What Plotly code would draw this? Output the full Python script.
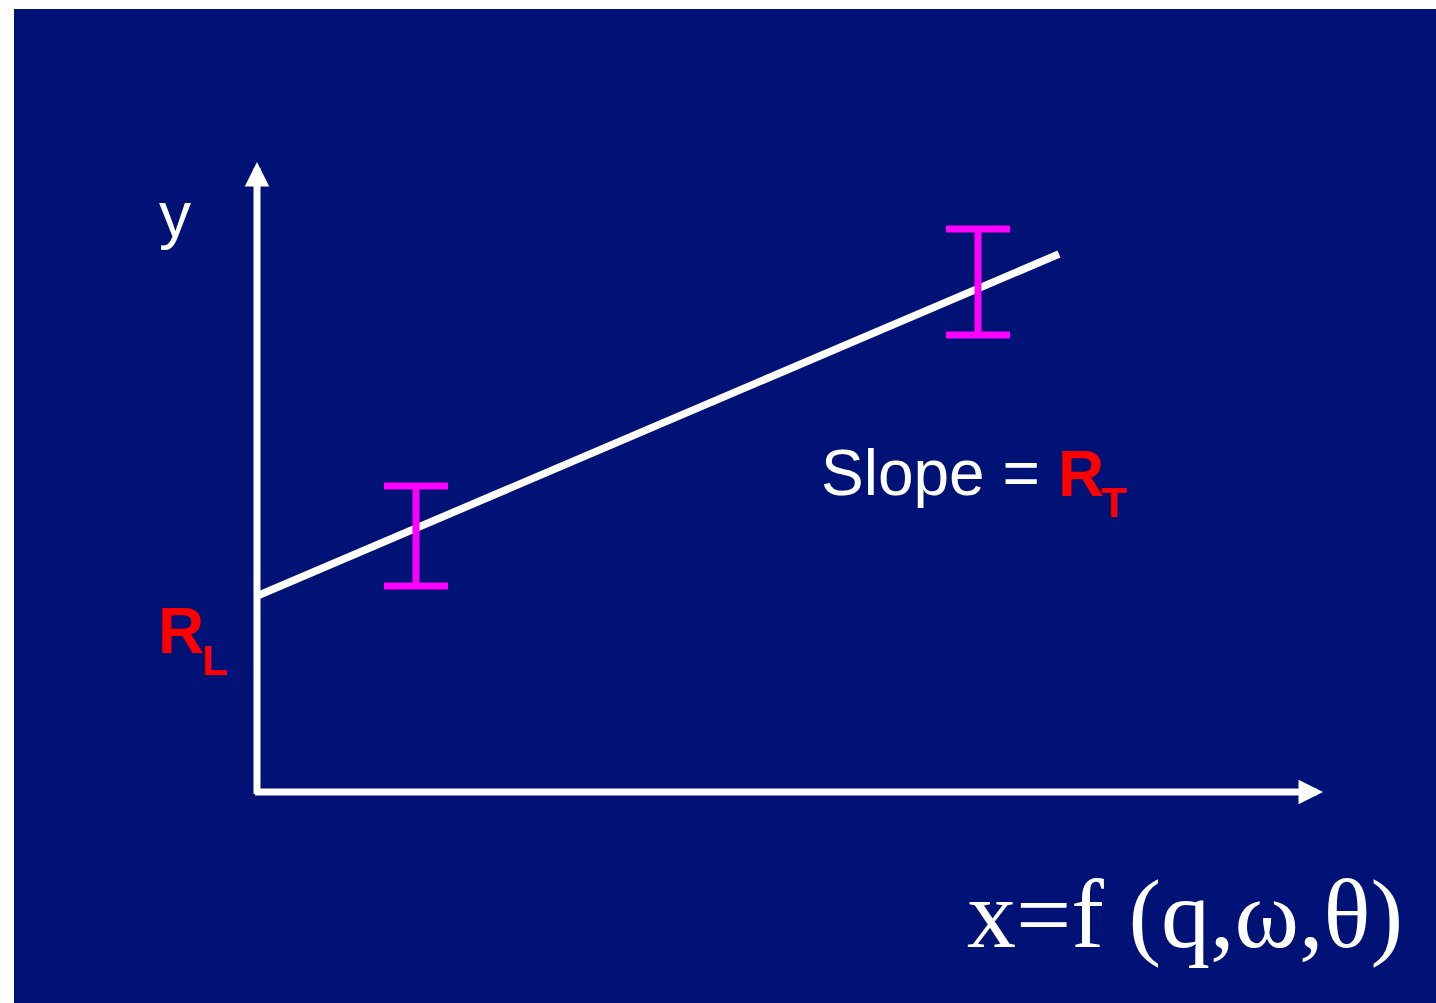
import plotly.graph_objects as go

# ---- data (schematic units) ----
line_x = [0.0, 8.02]
line_y = [1.96, 5.38]
bar_x = [1.59, 7.21]
bar_y = [2.56, 5.10]
bar_err = [0.50, 0.53]
x_axis_end = 10.66
y_axis_end = 6.30

BLUE = "#001275"
MAGENTA = "#ff00ff"
RED = "#ff0000"
SANS = "Liberation Sans"

fig = go.Figure()

fig.add_trace(go.Scatter(
    x=line_x, y=line_y, mode="lines",
    line=dict(color="white", width=7.5), hoverinfo="skip", showlegend=False))

fig.add_trace(go.Scatter(
    x=bar_x, y=bar_y, mode="markers",
    marker=dict(size=1, color="rgba(0,0,0,0)"),
    error_y=dict(type="data", array=bar_err, visible=True,
                 color=MAGENTA, thickness=7, width=32),
    hoverinfo="skip", showlegend=False))

annotations = [
    # y axis arrow
    dict(x=0, y=y_axis_end, ax=0, ay=-0.035, xref="x", yref="y", axref="x", ayref="y",
         text="", showarrow=True, arrowhead=2, arrowsize=0.7, arrowwidth=7,
         arrowcolor="white", standoff=0),
    # x axis arrow
    dict(x=x_axis_end, y=0, ax=-0.035, ay=0, xref="x", yref="y", axref="x", ayref="y",
         text="", showarrow=True, arrowhead=2, arrowsize=0.7, arrowwidth=7,
         arrowcolor="white", standoff=0),
    dict(x=-0.82, y=5.77, xref="x", yref="y", text="y", showarrow=False,
         font=dict(family=SANS, size=64, color="white"),
         xanchor="center", yanchor="middle"),
    # R_L
    dict(x=-1.01, y=1.61, xref="x", yref="y", text="<b>R</b>", showarrow=False,
         font=dict(family=SANS, size=64, color=RED), xanchor="left", yanchor="middle"),
    dict(x=-0.57, y=1.32, xref="x", yref="y", text="<b>L</b>", showarrow=False,
         font=dict(family=SANS, size=42, color=RED), xanchor="left", yanchor="middle"),
    # Slope = R_T
    dict(x=5.62, y=3.19, xref="x", yref="y", text="Slope =", showarrow=False,
         font=dict(family=SANS, size=64, color="white"), xanchor="left", yanchor="middle"),
    dict(x=7.99, y=3.18, xref="x", yref="y", text="<b>R</b>", showarrow=False,
         font=dict(family=SANS, size=64, color=RED), xanchor="left", yanchor="middle"),
    dict(x=8.42, y=2.90, xref="x", yref="y", text="<b>T</b>", showarrow=False,
         font=dict(family=SANS, size=42, color=RED), xanchor="left", yanchor="middle"),
    dict(x=7.08, y=-1.22, xref="x", yref="y",
         text="x=f (q,ω,θ)", showarrow=False,
         font=dict(family="Liberation Serif", size=98, color="white"),
         xanchor="left", yanchor="middle"),
]

fig.update_layout(
    width=1436, height=1003, autosize=False,
    margin=dict(l=14, t=9, r=0, b=0, pad=0),
    paper_bgcolor="white", plot_bgcolor=BLUE,
    xaxis=dict(range=[-2.43, 11.79], visible=False, fixedrange=True),
    yaxis=dict(range=[-2.11, 7.83], visible=False, fixedrange=True),
    annotations=annotations,
    showlegend=False,
)

fig.write_html("out.html", config={"displayModeBar": False},
               post_script="document.body.style.margin='0';document.body.style.overflow='hidden';")
